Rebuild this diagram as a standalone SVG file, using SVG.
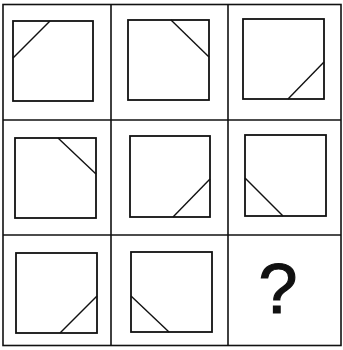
<svg xmlns="http://www.w3.org/2000/svg" width="343" height="350" viewBox="0 0 343 350">
<style>
.grid{fill:none;stroke:#111;stroke-width:1.6}
.sq{fill:none;stroke:#111;stroke-width:1.8}
.dg{stroke:#111;stroke-width:1.4}
.q{font-family:"Liberation Sans",Arial,sans-serif;font-size:70px;fill:#111;stroke:#111;stroke-width:1.2;text-anchor:middle}
</style>
<rect width="343" height="350" fill="#fff"/>
<g id="grid">
<rect class="grid" x="3" y="4.5" width="338" height="341"/>
<line class="grid" x1="111" y1="4.5" x2="111" y2="345.5"/>
<line class="grid" x1="228" y1="4.5" x2="228" y2="345.5"/>
<line class="grid" x1="3" y1="120" x2="341" y2="120"/>
<line class="grid" x1="3" y1="235" x2="341" y2="235"/>
</g>
<g id="c1"><rect class="sq" x="13" y="21" width="80" height="80"/><line class="dg" x1="50" y1="21" x2="13" y2="58"/></g>
<g id="c2"><rect class="sq" x="128" y="20" width="81" height="80"/><line class="dg" x1="171" y1="20" x2="209" y2="57"/></g>
<g id="c3"><rect class="sq" x="243" y="19" width="81" height="80"/><line class="dg" x1="324" y1="62" x2="288" y2="99"/></g>
<g id="c4"><rect class="sq" x="15" y="138" width="81" height="80"/><line class="dg" x1="58" y1="138" x2="96" y2="174"/></g>
<g id="c5"><rect class="sq" x="130" y="136" width="80" height="81"/><line class="dg" x1="210" y1="179" x2="173" y2="217"/></g>
<g id="c6"><rect class="sq" x="245" y="135" width="81" height="81"/><line class="dg" x1="245" y1="178" x2="283" y2="216"/></g>
<g id="c7"><rect class="sq" x="16" y="253" width="81" height="80"/><line class="dg" x1="97" y1="296" x2="60" y2="333"/></g>
<g id="c8"><rect class="sq" x="131" y="252" width="81" height="80"/><line class="dg" x1="131" y1="296" x2="169" y2="332"/></g>
<g id="c9"><text class="q" x="278" y="313">?</text></g>
</svg>
